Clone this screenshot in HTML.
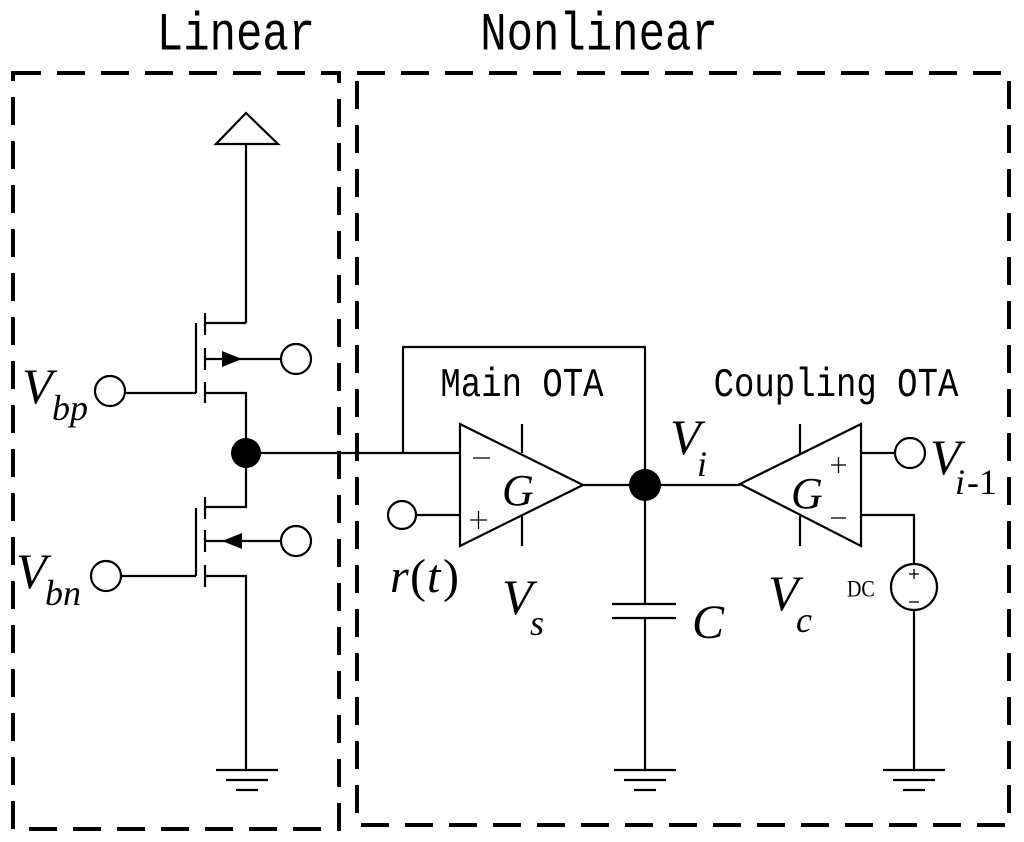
<!DOCTYPE html>
<html><head><meta charset="utf-8"><style>
html,body{margin:0;padding:0;background:#fff}
svg{display:block}
.m{font-family:"Liberation Serif",serif;font-style:italic}
.t{font-family:"Liberation Mono",monospace}
</style></head><body>
<svg width="1024" height="842" viewBox="0 0 1024 842" xmlns="http://www.w3.org/2000/svg">
<g fill="none" stroke="#000" stroke-width="4" stroke-dasharray="28,16">
<rect x="13" y="73" width="326" height="756"/>
<rect x="357" y="73" width="652" height="752"/>
</g>
<text class="t" x="236" y="44" font-size="44" text-anchor="middle" transform="translate(0,-4) scale(1,1.22)">Linear</text>
<text class="t" x="599" y="44" font-size="44" text-anchor="middle" transform="translate(0,-4) scale(1,1.22)">Nonlinear</text>
<g fill="none" stroke="#000" stroke-width="2.2">
<polygon points="246,113 216,144 278,144"/>
<line x1="246" y1="144" x2="246" y2="323"/>
<line x1="196" y1="323" x2="196" y2="393"/>
<line x1="205" y1="313" x2="205" y2="335"/>
<line x1="205" y1="348" x2="205" y2="370"/>
<line x1="205" y1="382" x2="205" y2="403"/>
<line x1="205" y1="323" x2="246" y2="323"/>
<line x1="205" y1="359" x2="281" y2="359"/>
<circle cx="296" cy="359" r="15"/>
<polyline points="205,393 246,393 246,507 205,507"/>
<line x1="125" y1="393" x2="196" y2="393"/>
<circle cx="110" cy="391" r="15"/>
<line x1="196" y1="508" x2="196" y2="576"/>
<line x1="205" y1="497" x2="205" y2="519"/>
<line x1="205" y1="530" x2="205" y2="552"/>
<line x1="205" y1="565" x2="205" y2="587"/>
<line x1="205" y1="541" x2="281" y2="541"/>
<circle cx="296" cy="541" r="15"/>
<polyline points="205,576 246,576 246,770"/>
<line x1="120" y1="576" x2="196" y2="576"/>
<circle cx="106" cy="576" r="15"/>
<line x1="216" y1="770" x2="278" y2="770"/><line x1="226" y1="780" x2="268" y2="780"/><line x1="236" y1="790" x2="258" y2="790"/>
<line x1="614" y1="770" x2="676" y2="770"/><line x1="624" y1="780" x2="666" y2="780"/><line x1="634" y1="790" x2="656" y2="790"/>
<line x1="883" y1="770" x2="945" y2="770"/><line x1="893" y1="780" x2="935" y2="780"/><line x1="903" y1="790" x2="925" y2="790"/>
<line x1="246" y1="453" x2="460" y2="453"/>
<polyline points="403,453 403,347 645,347 645,485"/>
<polygon points="460,424 460,546 583,485"/>
<line x1="522" y1="424" x2="522" y2="453"/>
<line x1="522" y1="516" x2="522" y2="546"/>
<line x1="417" y1="515" x2="460" y2="515"/>
<circle cx="402" cy="515" r="14"/>
<line x1="583" y1="485" x2="740" y2="485"/>
<line x1="645" y1="485" x2="645" y2="603"/>
<line x1="612" y1="604" x2="676" y2="604"/>
<line x1="612" y1="618" x2="676" y2="618"/>
<line x1="645" y1="618" x2="645" y2="770"/>
<polygon points="740,484 861,424 861,546"/>
<line x1="800" y1="424" x2="800" y2="454"/>
<line x1="800" y1="516" x2="800" y2="546"/>
<line x1="861" y1="453" x2="895" y2="453"/>
<circle cx="910" cy="453" r="15"/>
<polyline points="861,515 914,515 914,564"/>
<circle cx="914" cy="587" r="23"/>
<line x1="914" y1="610" x2="914" y2="770"/>
</g>
<g fill="#000">
<polygon points="222,351 222,367 242,359"/>
<polygon points="242,533 242,549 222,541"/>
<circle cx="246" cy="453" r="15"/>
<circle cx="645" cy="485" r="16"/>
</g>
<g stroke="#000" stroke-width="1.3">
<line x1="473" y1="458" x2="490" y2="458"/>
<line x1="470" y1="520" x2="487" y2="520"/><line x1="478.5" y1="511" x2="478.5" y2="529"/>
<line x1="831" y1="465" x2="846" y2="465"/><line x1="838.5" y1="457" x2="838.5" y2="473"/>
<line x1="831" y1="518" x2="846" y2="518"/>
<line x1="909" y1="574" x2="919" y2="574"/><line x1="914" y1="569" x2="914" y2="579"/>
<line x1="909" y1="602" x2="919" y2="602"/>
</g>
<text class="t" x="522" y="330" font-size="34" text-anchor="middle" transform="scale(1,1.2)">Main OTA</text>
<text class="t" x="836" y="330" font-size="34" text-anchor="middle" transform="scale(1,1.2)">Coupling OTA</text>
<text class="m" x="502" y="505" font-size="44">G</text>
<text class="m" x="791" y="508" font-size="44">G</text>
<text class="m" x="22" y="403" font-size="50">V</text><text class="m" x="52" y="420" font-size="36">bp</text>
<text class="m" x="16" y="588" font-size="50">V</text><text class="m" x="45" y="605" font-size="36">bn</text>
<text class="m" x="390" y="592" font-size="48">r</text><text x="410" y="592" font-size="48" font-family="Liberation Serif,serif">(</text><text class="m" x="427" y="592" font-size="48">t</text><text x="443" y="592" font-size="48" font-family="Liberation Serif,serif">)</text>
<text class="m" x="502" y="614" font-size="50">V</text><text class="m" x="530" y="635" font-size="36">s</text>
<text class="m" x="768" y="610" font-size="50">V</text><text class="m" x="796" y="632" font-size="36">c</text>
<text class="m" x="692" y="638" font-size="48">C</text>
<text class="m" x="670" y="454" font-size="50">V</text><text class="m" x="697" y="476" font-size="36">i</text>
<text class="m" x="930" y="474" font-size="50">V</text><text class="m" x="955" y="494" font-size="36">i</text><text x="967" y="494" font-size="36" font-family="Liberation Serif,serif">-1</text>
<text x="847" y="510" font-size="20" font-family="Liberation Serif,serif" transform="scale(1,1.17)">DC</text>
</svg>
</body></html>
